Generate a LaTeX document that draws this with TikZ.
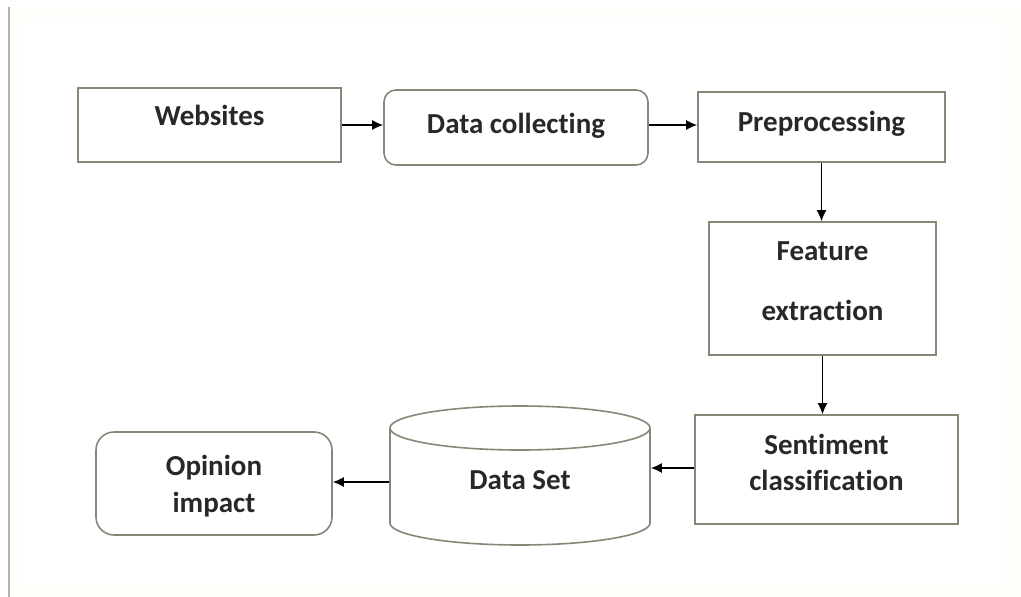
\documentclass[tikz,border=0pt]{standalone}
\usepackage{fontspec}
\setmainfont{Carlito}[Ligatures=NoCommon]
\usetikzlibrary{arrows.meta}
\definecolor{borde}{RGB}{128,138,118}
\definecolor{texto}{RGB}{40,40,40}
\begin{document}
\begin{tikzpicture}[x=1pt, y=-1pt, line width=1.6pt,
  caja/.style={draw=borde, fill=white, text=texto, align=center, text height=21pt,
    font=\fontsize{29}{36}\selectfont\bfseries},
  flecha/.style={-{Latex[length=11pt,width=10pt]}, line width=1.5pt}]
  % el marco de la hoja
  \useasboundingbox (0,0) rectangle (1021,597);
  \fill[green!3!yellow!2] (9,7) rectangle (1021,597);
  \fill[white] (20,18) rectangle (1005,585);
  \draw[gray!60, line width=2pt] (9,7) -- (9,597);
  % la fila de arriba
  \node[caja, minimum width=263, minimum height=74, text depth=21pt] (web) at (209.5,125) {Websites};
  \node[caja, rounded corners=12pt, minimum width=264, minimum height=75, text depth=10pt] (col) at (516,127.5) {Data collecting};
  \node[caja, minimum width=247, minimum height=70, text depth=13pt] (pre) at (821.5,127) {Preprocessing};
  % la columna de la derecha
  \node[caja, minimum width=227, minimum height=133, text height=81pt, text depth=17pt,
    font=\fontsize{29}{60}\selectfont\bfseries] (fea) at (822.5,288.5) {Feature\\extraction};
  \node[caja, minimum width=263, minimum height=109, text height=57pt, text depth=15pt] (sen) at (826.5,469.5) {Sentiment\\classification};
  % el cilindro de los datos
  \draw[borde, fill=white] (390,428) -- (390,523) arc[start angle=180, end angle=0, x radius=130, y radius=22] -- (650,428);
  \draw[borde] (520,428) ellipse[x radius=130, y radius=22];
  \node[caja, draw=none, fill=none, minimum width=260, minimum height=50, text depth=0pt] (ds) at (520,479) {Data Set};
  % la opinion, abajo a la izquierda
  \node[caja, rounded corners=18pt, minimum width=236, minimum height=103, text height=58pt, text depth=0pt,
    font=\fontsize{29}{37}\selectfont\bfseries] (opi) at (214,483.5) {Opinion\\impact};
  % las flechas
  \draw[flecha] (web.east) -- (web.east -| col.west);
  \draw[flecha] (col.east |- web.east) -- (web.east -| pre.west);
  \draw[flecha] (pre.south) -- (pre.south |- fea.north);
  \draw[flecha] (fea.south) -- (fea.south |- sen.north);
  \draw[flecha] (sen.west |- 0,468) -- (ds.east |- 0,468);
  \draw[flecha] (ds.west |- 0,482) -- (opi.east |- 0,482);
\end{tikzpicture}
\end{document}
